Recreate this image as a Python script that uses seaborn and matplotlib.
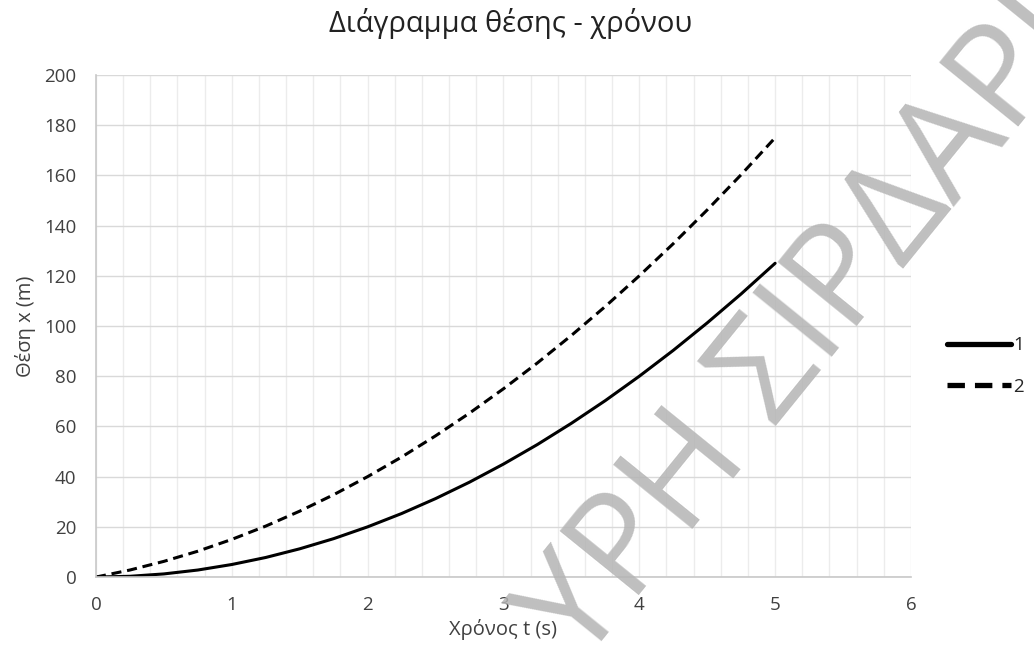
import numpy as np
import pandas as pd
import matplotlib
matplotlib.use("Agg")
import matplotlib.pyplot as plt
import seaborn as sns
from matplotlib.ticker import MultipleLocator

# values
t = [0, 0.25, 0.5, 0.75, 1, 1.25, 1.5, 1.75, 2, 2.25, 2.5, 2.75, 3,
     3.25, 3.5, 3.75, 4, 4.25, 4.5, 4.75, 5]
x1 = [0, 0.3, 1.25, 2.8, 5, 7.8, 11.25, 15.3, 20, 25.3, 31.25, 37.8, 45,
      52.8, 61.25, 70.3, 80, 90.3, 101.25, 112.8, 125]
x2 = [0, 2.8, 6.25, 10.3, 15, 20.3, 26.25, 32.8, 40, 47.8, 56.25, 65.3, 75,
      85.3, 96.25, 107.8, 120, 132.8, 146.25, 160.3, 175]
labels = ["1", "2"]

title = "Διάγραμμα θέσης - χρόνου"
xlabel = "Χρόνος t (s)"
ylabel = "Θέση x (m)"
watermark = "ΥΡΗ ΣΙΡΔΑΡΗ"

sns.set_style("white")
plt.rcParams["font.family"] = ["Open Sans", "DejaVu Sans"]

df = pd.DataFrame({"t": t, "x1": x1, "x2": x2})

fig = plt.figure(figsize=(10.34, 6.55), dpi=100)
ax = fig.add_axes([0.0928, 0.119, 0.7882, 0.7665])

sns.lineplot(data=df, x="t", y="x1", ax=ax, color="black", lw=2.2,
             label=labels[0])
sns.lineplot(data=df, x="t", y="x2", ax=ax, color="black", lw=2.2,
             linestyle=(0, (3.3, 1.9)), label=labels[1])

ax.set_xlim(0, 6)
ax.set_ylim(0, 200)
ax.xaxis.set_major_locator(MultipleLocator(1))
ax.xaxis.set_minor_locator(MultipleLocator(0.2))
ax.yaxis.set_major_locator(MultipleLocator(20))
ax.grid(which="major", axis="y", color="#d9d9d9", lw=1)
ax.grid(which="both", axis="x", color="#ececec", lw=1)
ax.set_axisbelow(True)
for s in ["top", "right"]:
    ax.spines[s].set_visible(False)
for s in ["left", "bottom"]:
    ax.spines[s].set_color("#c8c8c8")
    ax.spines[s].set_linewidth(1.2)
ax.tick_params(which="both", length=0, labelsize=13.5, labelcolor="#404040")
ax.tick_params(axis="x", pad=14)
ax.tick_params(axis="y", pad=14)

ax.set_xlabel(xlabel, fontsize=14.5, color="#404040", labelpad=3)
ax.set_ylabel(ylabel, fontsize=14.5, color="#404040", labelpad=6)

fig.suptitle(title, x=0.494, y=0.988, fontsize=21, color="#222222")

leg = ax.legend(loc="center left", bbox_to_anchor=(1.044, 0.42), frameon=False,
                borderaxespad=0, borderpad=0, handlelength=3.4,
                handletextpad=0.15, labelspacing=1.25, fontsize=13.5)
for line in leg.get_lines():
    line.set_linewidth(3.8)

fig.text(0.562, -0.018, watermark, rotation=51, rotation_mode="anchor",
         ha="left", va="baseline", fontsize=102, color="#b4b4b4", alpha=0.85,
         family=["Open Sans", "DejaVu Sans"], zorder=10)

fig.savefig("out.png", dpi=100)
